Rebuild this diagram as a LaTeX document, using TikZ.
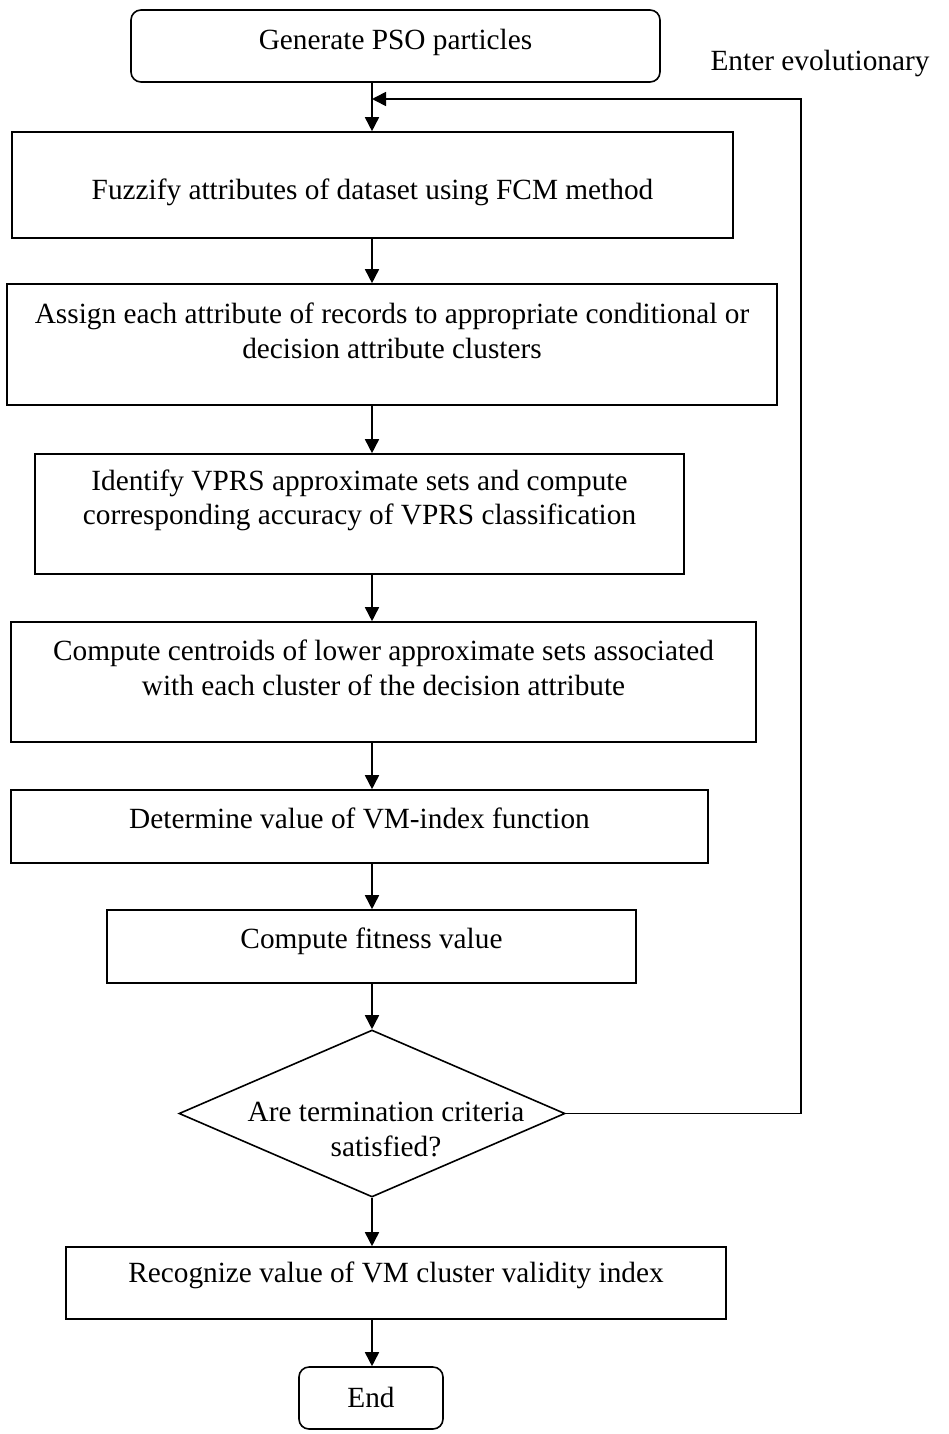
\documentclass[tikz,border=0pt]{standalone}
\usepackage{fontspec}
\setmainfont{Liberation Serif}
\usetikzlibrary{arrows.meta,shapes.geometric}
\newcommand\stepfont{\fontsize{29.3}{34.5}\selectfont}

\begin{document}
\begin{tikzpicture}[x=1pt,y=-1pt,->,line width=1.6pt,>={Triangle[length=14pt,width=14pt]}]
    \tikzstyle{stepbox}=[draw=black, rectangle, inner sep=0pt, fill=none]
    \tikzstyle{roundbox}=[style=stepbox, rounded corners=10pt]
    \tikzstyle{decision}=[draw=black, diamond, inner sep=0pt, fill=none]
    \tikzstyle{steptext}=[align=center, inner sep=0pt, font=\stepfont, text=black]

    \useasboundingbox (0,0) rectangle (949,1434);

    \coordinate (spine)  at (372,0);
    \coordinate (loop)   at (801,0);
    \coordinate (loopin) at (372,99);

    \node[roundbox, minimum width=529pt, minimum height=72pt]  (gen)      at (395.5,46)    {};
    \node[stepbox,  minimum width=721pt, minimum height=106pt] (fuzzify)  at (372.5,185)   {};
    \node[stepbox,  minimum width=770pt, minimum height=121pt] (assign)   at (392,344.5)   {};
    \node[stepbox,  minimum width=649pt, minimum height=120pt] (identify) at (359.5,514)   {};
    \node[stepbox,  minimum width=745pt, minimum height=120pt] (centroid) at (383.5,682)   {};
    \node[stepbox,  minimum width=697pt, minimum height=73pt]  (vmindex)  at (359.5,826.5) {};
    \node[stepbox,  minimum width=529pt, minimum height=73pt]  (fitness)  at (371.5,946.5) {};
    \node[decision, minimum width=386pt, minimum height=167pt] (test)     at (372,1113.5)  {};
    \node[stepbox,  minimum width=660pt, minimum height=72pt]  (recog)    at (396,1283)    {};
    \node[roundbox, minimum width=144pt, minimum height=62pt]  (finish)   at (371,1398)    {};

    \node[steptext] (gent)      at (395.5,42)   {Generate PSO particles};
    \node[steptext] (fuzzifyt)  at (372.5,192)  {Fuzzify attributes of dataset using FCM method};
    \node[steptext] (assignt)   at (392,331)    {Assign each attribute of records to appropriate conditional or\\decision attribute clusters};
    \node[steptext] (identifyt) at (359.5,500.5) {Identify VPRS approximate sets and compute\\corresponding accuracy of VPRS classification};
    \node[steptext] (centroidt) at (383.5,668)  {Compute centroids of lower approximate sets associated\\with each cluster of the decision attribute};
    \node[steptext] (vmindext)  at (359.5,818)  {Determine value of VM-index function};
    \node[steptext] (fitnesst)  at (371.5,941)  {Compute fitness value};
    \node[steptext] (testt)     at (386,1129.5) {Are termination criteria\\satisfied?};
    \node[steptext] (recogt)    at (396,1275)   {Recognize value of VM cluster validity index};
    \node[steptext] (finisht)   at (371,1397)   {End};
    \node[steptext] (loopt)     at (820,63)     {Enter evolutionary};

    \path
     (gen.south -| spine)      edge[] (fuzzify.north -| spine)
     (fuzzify.south -| spine)  edge[] (assign.north -| spine)
     (assign.south -| spine)   edge[] (identify.north -| spine)
     (identify.south -| spine) edge[] (centroid.north -| spine)
     (centroid.south -| spine) edge[] (vmindex.north -| spine)
     (vmindex.south -| spine)  edge[] (fitness.north -| spine)
     (fitness.south -| spine)  edge[] (test.north)
     (test.south)              edge[] (recog.north -| spine)
     (recog.south -| spine)    edge[] (finish.north -| spine)
     ;
    \draw (test.east) -- (test.east -| loop) |- (loopin);
\end{tikzpicture}
\end{document}
